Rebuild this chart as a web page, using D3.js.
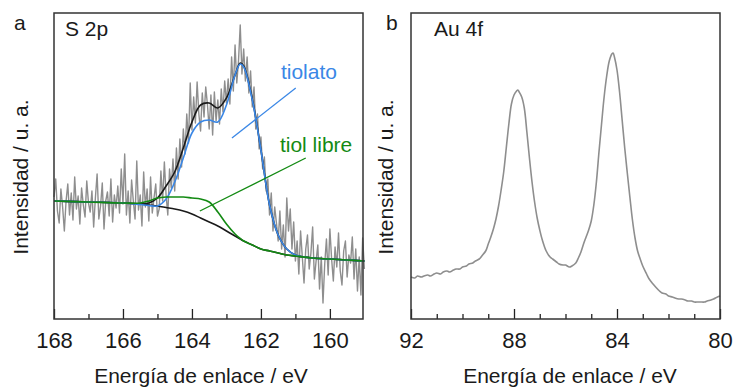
<!DOCTYPE html>
<html>
<head>
<meta charset="utf-8">
<script src="https://cdn.jsdelivr.net/npm/d3@7/dist/d3.min.js"></script>
<style>
  body { margin: 0; background: #fff; }
  text { font-family: "Liberation Sans", Arial, sans-serif; fill: #1a1a1a; }
</style>
</head>
<body>
<script>
// S 2p raw spectrum, 168 -> 159 eV, step 0.05 eV (a.u.)
const s2pStart = 168, s2pStep = 0.05;
const s2pRaw = [
  122, 140, 108, 96, 130, 112, 88, 118, 135, 104, 126, 99, 142, 110, 123, 95, 131, 114, 102, 138, 116,
  107, 128, 92, 121, 145, 100, 113, 136, 90, 118, 127, 103, 140, 97, 124, 111, 133, 106, 150, 115,
  165, 104, 128, 96, 139, 118, 100, 158, 109, 124, 93, 147, 112, 130, 98, 142, 106, 121, 135, 103,
  110, 148, 118, 157, 124, 104, 150, 131, 160, 128, 171, 140, 180, 152, 190, 165, 205, 176, 236, 189,
  222, 196, 237, 205, 188, 226, 202, 232, 214, 190, 224, 184, 227, 198, 219, 195, 230, 207, 238, 216,
  240, 215, 262, 228, 274, 236, 258, 294, 245, 270, 238, 262, 226, 248, 212, 232, 190, 205, 170, 182,
  150, 162, 128, 140, 104, 126, 88, 112, 96, 78, 108, 70, 94, 62, 121, 88, 110, 70, 97, 58,
  78, 45, 88, 62, 36, 70, 84, 50, 66, 92, 40, 58, 74, 30, 62, 16, 55, 80, 44, 90,
  60, 38, 72, 52, 86, 48, 34, 68, 78, 42, 64, 56, 82, 40, 70, 28, 62, 24, 81, 50
];

// fit curves, shared energy grid
const fitEnergy = [168, 167, 166, 165.5, 165.25, 165, 164.75, 164.5, 164.25, 164, 163.75, 163.5, 163.25,
  163, 162.75, 162.6, 162.5, 162.25, 162, 161.75, 161.5, 161.25, 161, 160.5, 160, 159.5, 159];
const fitEnvelope = [118, 117, 116, 115, 116, 121, 133, 147, 171, 197, 214, 216, 211,
  221, 244, 256, 253, 220, 169, 114, 84, 70, 64, 61, 60, 59, 58];
const fitTiolato = [118, 117, 116, 114.5, 113.5, 113, 120, 137, 161, 186, 197, 199, 197,
  214, 244, 255, 252, 219, 169, 114, 84, 70, 64, 61, 60, 59, 58];
const fitLibre = [118, 117, 116, 116, 118, 121, 122, 122, 122, 121, 120, 117, 107,
  95, 85, 80.5, 78, 74, 70, 68, 66, 64, 63, 61, 60, 59, 58];
const fitShirley = [118, 117, 116, 115, 114, 113, 111.5, 110, 108, 105, 101, 97, 93,
  88, 83, 80, 78, 74, 70, 68, 66, 64, 63, 61, 60, 59, 58];

// Au 4f spectrum
const auEnergy = [92.0, 91.85, 91.75, 91.6, 91.5, 91.35, 91.25, 91.1, 91.0, 90.85, 90.75, 90.6, 90.5, 90.35,
  90.25, 90.1, 90.0, 89.85, 89.75, 89.6, 89.5, 89.35, 89.25, 89.1, 89.0, 88.9, 88.8, 88.7, 88.6, 88.5,
  88.4, 88.3, 88.2, 88.1, 88.0, 87.9, 87.85, 87.8, 87.7, 87.6, 87.5, 87.4, 87.3, 87.2, 87.1, 87.0, 86.9,
  86.75, 86.6, 86.5, 86.35, 86.25, 86.1, 86.0, 85.85, 85.75, 85.6, 85.5, 85.4, 85.3, 85.2, 85.1, 85.0,
  84.9, 84.8, 84.7, 84.6, 84.5, 84.4, 84.3, 84.2, 84.15, 84.1, 84.0, 83.9, 83.8, 83.7, 83.6, 83.5, 83.4,
  83.3, 83.2, 83.1, 83.0, 82.85, 82.75, 82.6, 82.5, 82.35, 82.25, 82.1, 82.0, 81.85, 81.75, 81.6, 81.5,
  81.35, 81.25, 81.1, 81.0, 80.85, 80.75, 80.6, 80.5, 80.35, 80.25, 80.1, 80.0];
const auIntensity = [42, 41, 43, 42, 43, 44, 43, 45, 46, 45, 47, 48, 47, 49,
  50, 50, 52, 53, 55, 56, 58, 60, 63, 68, 75, 82, 90, 100, 113, 129,
  147, 171, 195, 215, 224, 228, 229, 227, 222, 211, 187, 161, 137, 117, 101, 89, 79,
  68, 62, 60, 57, 55, 54, 54, 52, 53, 56, 61, 67, 75, 82, 89, 98,
  114, 137, 167, 195, 222, 243, 258, 265, 266, 262, 249, 227, 199, 171, 146, 122, 99,
  81, 68, 60, 53, 45, 40, 35, 32, 28, 26, 25, 23, 22, 21, 20, 20,
  19, 18, 18, 17, 17, 17, 17, 18, 19, 20, 22, 23];

const s2pMajor = [168, 166, 164, 162, 160];
const s2pMinor = [167, 165, 163, 161];
const auMajor = [92, 88, 84, 80];
const auMinor = [91, 90, 89, 87, 86, 85, 83, 82, 81];

const W = 734, H = 387;
const plotTop = 13, plotBottom = 319;
const font = '"Liberation Sans", Arial, sans-serif';

const svg = d3.select('body').append('svg')
  .attr('width', W)
  .attr('height', H);

function drawFrame(x, y, major, minor) {
  const [x0, x1] = x.range();
  // Add the major ticks
  const gMaj = svg.append('g')
    .attr('transform', 'translate(0,' + plotBottom + ')')
    .call(d3.axisBottom(x).tickValues(major).tickSize(-10).tickPadding(13).tickFormat(d3.format('d')));
  // Add the minor ticks
  const gMin = svg.append('g')
    .attr('transform', 'translate(0,' + plotBottom + ')')
    .call(d3.axisBottom(x).tickValues(minor).tickSize(-5).tickFormat(''));
  [gMaj, gMin].forEach(g => {
    g.select('.domain').remove();
    g.selectAll('line').attr('stroke', '#222').attr('stroke-width', 1.3);
  });
  gMaj.selectAll('text')
    .style('font-size', '22px')
    .style('font-family', font)
    .attr('fill', '#1a1a1a');

  svg.append('rect')
    .attr('x', x0).attr('y', plotTop)
    .attr('width', x1 - x0).attr('height', plotBottom - plotTop)
    .attr('fill', 'none')
    .attr('stroke', '#333')
    .attr('stroke-width', 1.5);
}

function labels(cx, letter, letterX, title, titleX, yLabelX, xTitleX) {
  svg.append('text').attr('x', letterX).attr('y', 30).style('font-size', '21px').text(letter);
  svg.append('text').attr('x', titleX).attr('y', 36).style('font-size', '21px').text(title);
  svg.append('text')
    .attr('transform', 'translate(' + yLabelX + ',177) rotate(-90)')
    .attr('text-anchor', 'middle')
    .style('font-size', '21px')
    .text('Intensidad / u. a.');
  svg.append('text')
    .attr('x', xTitleX).attr('y', 383)
    .attr('text-anchor', 'middle')
    .style('font-size', '21px')
    .text('Energía de enlace / eV');
}

// ---- panel a: S 2p ----
const xa = d3.scaleLinear().domain([168, 159.04]).range([54, 363]);
const ya = d3.scaleLinear().domain([0, 306]).range([plotBottom, plotTop]);

const rawPts = s2pRaw.map((v, i) => [s2pStart - i * s2pStep, v]);
svg.append('path')
  .attr('d', d3.line().x(d => xa(d[0])).y(d => ya(d[1]))(rawPts))
  .attr('fill', 'none')
  .attr('stroke', '#8e8e8e')
  .attr('stroke-width', 1.4)
  .attr('stroke-linejoin', 'round');

const fitLine = d3.line()
  .x((d, i) => xa(fitEnergy[i]))
  .y(d => ya(d))
  .curve(d3.curveCatmullRom.alpha(0.5));

[
  [fitEnvelope, '#1a1a1a'],
  [fitShirley, '#1a1a1a'],
  [fitTiolato, '#3a87e6'],
  [fitLibre, '#138a13']
].forEach(([vals, col]) => {
  svg.append('path')
    .attr('d', fitLine(vals))
    .attr('fill', 'none')
    .attr('stroke', col)
    .attr('stroke-width', 1.6);
});

// annotation pointers
svg.append('line')
  .attr('x1', xa(162.84)).attr('y1', ya(181))
  .attr('x2', xa(160.99)).attr('y2', ya(231))
  .attr('stroke', '#3a87e6').attr('stroke-width', 1.3);
svg.append('line')
  .attr('x1', xa(163.77)).attr('y1', ya(108))
  .attr('x2', xa(160.70)).attr('y2', ya(161))
  .attr('stroke', '#138a13').attr('stroke-width', 1.3);
svg.append('text').attr('x', xa(161.42)).attr('y', ya(240))
  .style('font-size', '21px').style('fill', '#3a87e6').text('tiolato');
svg.append('text').attr('x', xa(161.45)).attr('y', ya(167))
  .style('font-size', '21px').style('fill', '#138a13').text('tiol libre');

drawFrame(xa, ya, s2pMajor, s2pMinor);
labels(0, 'a', 14, 'S 2p', 65, 28, 201);

// ---- panel b: Au 4f ----
const xb = d3.scaleLinear().domain([92, 80]).range([411, 720]);
const yb = d3.scaleLinear().domain([0, 306]).range([plotBottom, plotTop]);

svg.append('path')
  .attr('d', d3.line().x((d, i) => xb(auEnergy[i])).y(d => yb(d)).curve(d3.curveCatmullRom.alpha(0.5))(auIntensity))
  .attr('fill', 'none')
  .attr('stroke', '#8e8e8e')
  .attr('stroke-width', 1.6);

drawFrame(xb, yb, auMajor, auMinor);
labels(0, 'b', 386, 'Au 4f', 434, 393, 570);
</script>
</body>
</html>
